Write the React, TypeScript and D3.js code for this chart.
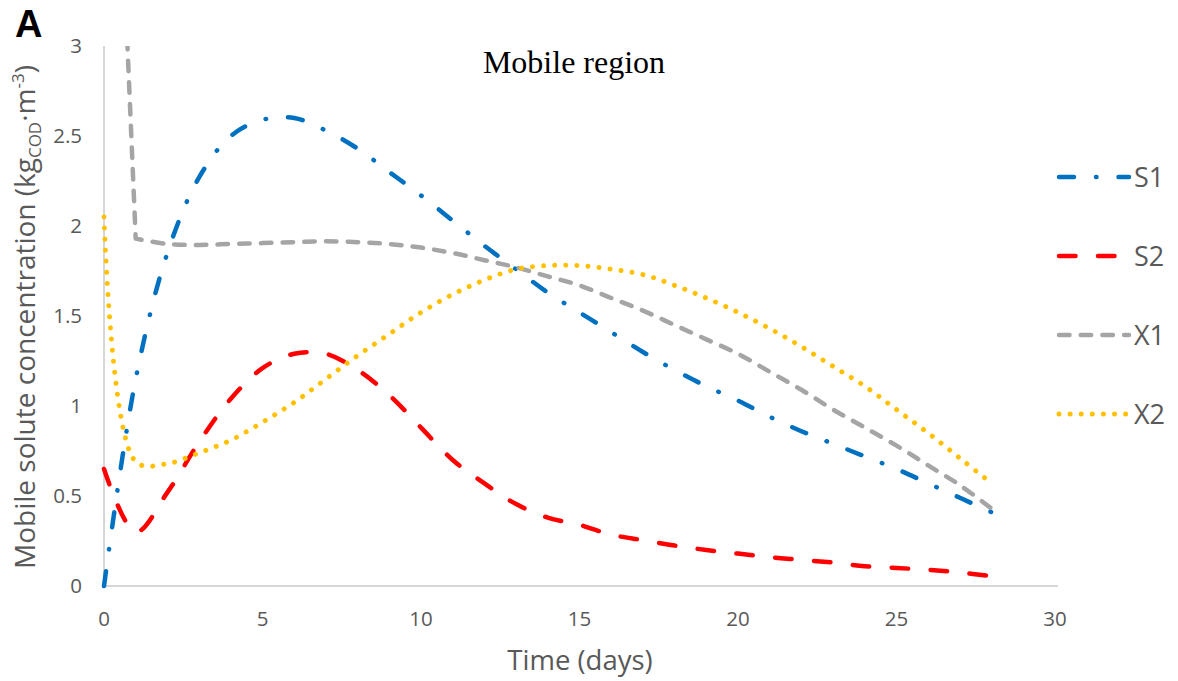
import * as d3 from "d3";

const WIDTH = 1178;
const HEIGHT = 681;
const MARGIN = { top: 46, right: 123, bottom: 95, left: 104 };

const days = [0, 1, 2, 3, 4, 5, 6, 7, 8, 9, 10, 11, 12, 13, 14, 15, 16, 17, 18, 19, 20, 21, 22, 23, 24, 25, 26, 27, 28];
const s1 = [0, 1.15, 1.85, 2.27, 2.5, 2.59, 2.6, 2.53, 2.43, 2.3, 2.17, 2.03, 1.89, 1.76, 1.63, 1.52, 1.41, 1.3, 1.2, 1.11, 1.03, 0.94, 0.86, 0.79, 0.72, 0.65, 0.57, 0.49, 0.41];
const s2 = [0.65, 0.3, 0.52, 0.8, 1.04, 1.21, 1.29, 1.29, 1.2, 1.06, 0.88, 0.7, 0.57, 0.455, 0.38, 0.34, 0.285, 0.255, 0.225, 0.2, 0.18, 0.16, 0.145, 0.13, 0.11, 0.1, 0.09, 0.075, 0.055];
const x1 = [6.05, 1.93, 1.9, 1.895, 1.9, 1.905, 1.91, 1.915, 1.91, 1.9, 1.88, 1.85, 1.81, 1.77, 1.72, 1.67, 1.6, 1.53, 1.45, 1.37, 1.29, 1.19, 1.09, 0.98, 0.88, 0.78, 0.67, 0.56, 0.43];
const x2 = [2.05, 0.69, 0.68, 0.74, 0.81, 0.91, 1.02, 1.15, 1.28, 1.4, 1.52, 1.62, 1.7, 1.76, 1.78, 1.78, 1.76, 1.73, 1.67, 1.6, 1.52, 1.43, 1.33, 1.22, 1.11, 0.98, 0.85, 0.71, 0.57];

const xTicks = [0, 5, 10, 15, 20, 25, 30];
const yTicks = [0, 0.5, 1, 1.5, 2, 2.5, 3];

// X1 jumps off the top of the chart, its first segment is drawn straight
const SERIES = [
  { name: "S1", values: s1, color: "#0070C0", dash: "15 22 0.5 22", width: 4.5, straightStart: false },
  { name: "S2", values: s2, color: "#FF0000", dash: "16.5 22.5", width: 4.5, straightStart: false },
  { name: "X1", values: x1, color: "#A5A5A5", dash: "10.5 11.2", width: 4.5, straightStart: true },
  { name: "X2", values: x2, color: "#FFC000", dash: "0.01 11.1", width: 5, straightStart: false },
];

const LABEL = "#595959";
const FONT = "'Open Sans', Lato, sans-serif";

export default function App() {
  const boundsWidth = WIDTH - MARGIN.left - MARGIN.right;
  const boundsHeight = HEIGHT - MARGIN.top - MARGIN.bottom;

  const xScale = d3.scaleLinear().domain([0, 30]).range([0, boundsWidth]);
  const yScale = d3.scaleLinear().domain([0, 3]).range([boundsHeight, 0]);

  const smooth = d3
    .line<[number, number]>()
    .x((d) => xScale(d[0]))
    .y((d) => yScale(d[1]))
    .curve(d3.curveCatmullRom.alpha(0.5));

  const pathFor = (values: number[], straightStart: boolean) => {
    const pts = values.map((v, i) => [days[i], v] as [number, number]);
    if (!straightStart) return smooth(pts) || "";
    const rest = smooth(pts.slice(1)) || "";
    return `M${xScale(pts[0][0])},${yScale(pts[0][1])}L` + rest.slice(1);
  };

  return (
    <svg
      width={WIDTH}
      height={HEIGHT}
      style={{ position: "absolute", left: 0, top: 0, background: "#fff" }}
    >
      <defs>
        <clipPath id="plotClip">
          <rect x={-5} y={0} width={boundsWidth + 10} height={boundsHeight + 5} />
        </clipPath>
      </defs>

      <text x={15} y={37} fontFamily="'Liberation Sans', Arial, sans-serif" fontWeight="bold" fontSize={38} fill="#000">
        A
      </text>

      <g transform={`translate(${MARGIN.left}, ${MARGIN.top})`}>
        <line x1={0} x2={0} y1={0} y2={boundsHeight} stroke="#C8C8C8" strokeWidth={1.5} />
        <line x1={0} x2={boundsWidth + 3} y1={boundsHeight} y2={boundsHeight} stroke="#C8C8C8" strokeWidth={1.5} />

        {yTicks.map((t) => (
          <text key={t} x={-22} y={yScale(t)} dy="0.36em" textAnchor="end" fontFamily={FONT} fontSize={20.5} fill={LABEL}>
            {t}
          </text>
        ))}
        {xTicks.map((t) => (
          <text key={t} x={xScale(t)} y={boundsHeight + 40} textAnchor="middle" fontFamily={FONT} fontSize={20.5} fill={LABEL}>
            {t}
          </text>
        ))}

        <g clipPath="url(#plotClip)">
          {SERIES.map((s) => (
            <path
              key={s.name}
              d={pathFor(s.values, s.straightStart)}
              fill="none"
              stroke={s.color}
              strokeWidth={s.width}
              strokeDasharray={s.dash}
              strokeLinecap="round"
              strokeLinejoin="round"
            />
          ))}
        </g>

        <text x={470} y={27} textAnchor="middle" fontFamily="'Liberation Serif', 'Times New Roman', serif" fontSize={32} fill="#000">
          Mobile region
        </text>
      </g>

      <text x={580} y={670} textAnchor="middle" fontFamily={FONT} fontSize={27.5} fill={LABEL}>
        Time (days)
      </text>

      <text
        transform="translate(35, 317) rotate(-90)"
        textAnchor="middle"
        fontFamily={FONT}
        fontSize={28}
        fill={LABEL}
      >
        Mobile solute concentration (kg
        <tspan fontSize={17} dy={6}>COD</tspan>
        <tspan dy={-6}>·m</tspan>
        <tspan fontSize={17} dy={-11}>-3</tspan>
        <tspan dy={11}>)</tspan>
      </text>

      {SERIES.map((s, i) => {
        const y = 177 + i * 79;
        return (
          <g key={s.name}>
            <line
              x1={1059}
              x2={1129}
              y1={y}
              y2={y}
              stroke={s.color}
              strokeWidth={s.width}
              strokeDasharray={s.dash}
              strokeLinecap="round"
            />
            <text x={1134} y={y + 9.5} fontFamily={FONT} fontSize={27} fill={LABEL}>
              {s.name}
            </text>
          </g>
        );
      })}
    </svg>
  );
}
